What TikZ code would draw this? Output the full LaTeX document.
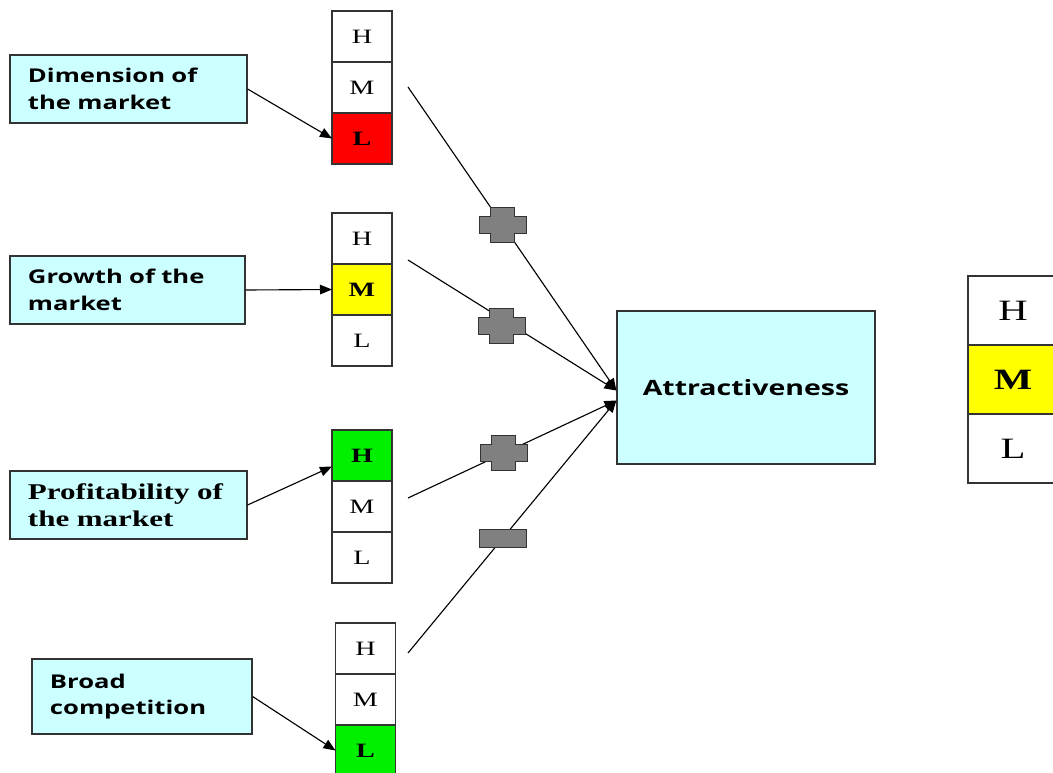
\documentclass[tikz,border=0pt]{standalone}
\usepackage{fontspec}
\setmainfont{Liberation Serif}[FakeStretch=1.38]
\newfontfamily\labelsans{Open Sans}[FakeStretch=1.35]
\usetikzlibrary{arrows.meta, calc, positioning}
\definecolor{boxcyan}{HTML}{CCFFFF}
\definecolor{markgray}{HTML}{808080}
\definecolor{lowred}{HTML}{FF0000}
\definecolor{midyellow}{HTML}{FFFF00}
\definecolor{highgreen}{HTML}{00F000}

\tikzset{
    factor/.style = {draw=black!80, thick, fill=boxcyan, align=left, inner xsep=0.45cm, inner ysep=0pt},
    sansfactor/.style = {factor, font=\labelsans\bfseries\fontsize{13.5}{19}\selectfont},
    seriffactor/.style = {factor, font=\bfseries\fontsize{16}{19}\selectfont},
    cell/.style = {draw=black!80, thick, fill=white, minimum width=1.5cm, minimum height=1.275cm,
        inner sep=0pt, outer sep=0pt, font=\fontsize{14.5}{14}\selectfont},
    bigcell/.style = {cell, minimum width=2.25cm, minimum height=1.725cm, font=\fontsize{21}{21}\selectfont},
    plain/.style = {},
    bad/.style = {fill=lowred, execute at begin node=\bfseries},
    fair/.style = {fill=midyellow, execute at begin node=\bfseries},
    good/.style = {fill=highgreen, execute at begin node=\bfseries},
    result/.style = {draw=black!80, thick, fill=boxcyan, minimum width=6.45cm, minimum height=3.825cm,
        font=\labelsans\bfseries\fontsize{15}{17}\selectfont},
    link/.style = {thick, -{Triangle[length=0.3cm, width=0.24cm]}},
    marker/.style = {draw=black!80, thick, fill=markgray},
    plus/.pic = {
        \draw [marker] (-12,-17.5) -- (12,-17.5) -- (12,-8.5) -- (23.5,-8.5) -- (23.5,8.5) -- (12,8.5) --
            (12,17.5) -- (-12,17.5) -- (-12,8.5) -- (-23.5,8.5) -- (-23.5,-8.5) -- (-12,-8.5) -- cycle;
    },
    minus/.pic = {
        \draw [marker] (-23.5,-9) rectangle (23.5,9);
    }
}

\begin{document}
\begin{tikzpicture}[x=0.025cm, y=-0.025cm]%{{{
        \useasboundingbox [fill=white] (0,0) rectangle (1053,773);

        % factors on the left
        \node [sansfactor, text width=5.025cm, minimum height=1.7cm] (B1) at (128.5,89) {Dimension of\\the market};
        \node [sansfactor, text width=4.975cm, minimum height=1.7cm] (B2) at (127.5,290) {Growth of the\\market};
        \node [seriffactor, text width=5.025cm, minimum height=1.7cm] (B3) at (128.5,505) {Profitability of\\the market};
        \node [sansfactor, text width=4.6cm, minimum height=1.875cm] (B4) at (142,696.5) {Broad\\competition};

        % H/M/L scales, one per factor
        \foreach \n/\x/\y/\sh/\sm/\sl in {1/362/11/plain/plain/bad, 2/362/213/plain/fair/plain,
                3/362/430/good/plain/plain, 4/365.5/623/plain/plain/good}{
            \node [cell, \sh, anchor=north] (C\n H) at (\x,\y) {H};
            \node [cell, \sm, below=0pt of C\n H] (C\n M) {M};
            \node [cell, \sl, below=0pt of C\n M] (C\n L) {L};
        }

        \draw [link] (B1.east) -- (C1L.west);
        \draw [link] (B2.east) -- (C2M.west);
        \draw [link] (B3.east) -- ($(C3H.west)+(0,11)$);
        \draw [link] (B4.east) -- (C4L.west);

        % outcome
        \node [result] (A) at (746,387.5) {Attractiveness};

        \node [bigcell, anchor=north] (RH) at (1013,276) {H};
        \node [bigcell, fair, below=0pt of RH] (RM) {M};
        \node [bigcell, below=0pt of RM] (RL) {L};

        \coordinate (S1) at (408,87);
        \coordinate (S2) at (408,260);
        \coordinate (S3) at (408,498);
        \coordinate (S4) at (408,653);
        \coordinate (E1) at ($(A.west)+(0,3)$);
        \coordinate (E2) at ($(A.west)+(0,13)$);

        \draw [link] (S1) -- (E1);
        \draw [link] (S2) -- (E1);
        \draw [link] (S3) -- (E2);
        \draw [link] (S4) -- (E2);

        \pic at ($(S1)!0.455!(E1)$) {plus};
        \pic at ($(S2)!0.45!(E1)+(0,7)$) {plus};
        \pic at ($(S3)!0.46!(E2)$) {plus};
        \pic at ($(S4)!0.455!(E2)$) {minus};
    \end{tikzpicture}
\end{document}
